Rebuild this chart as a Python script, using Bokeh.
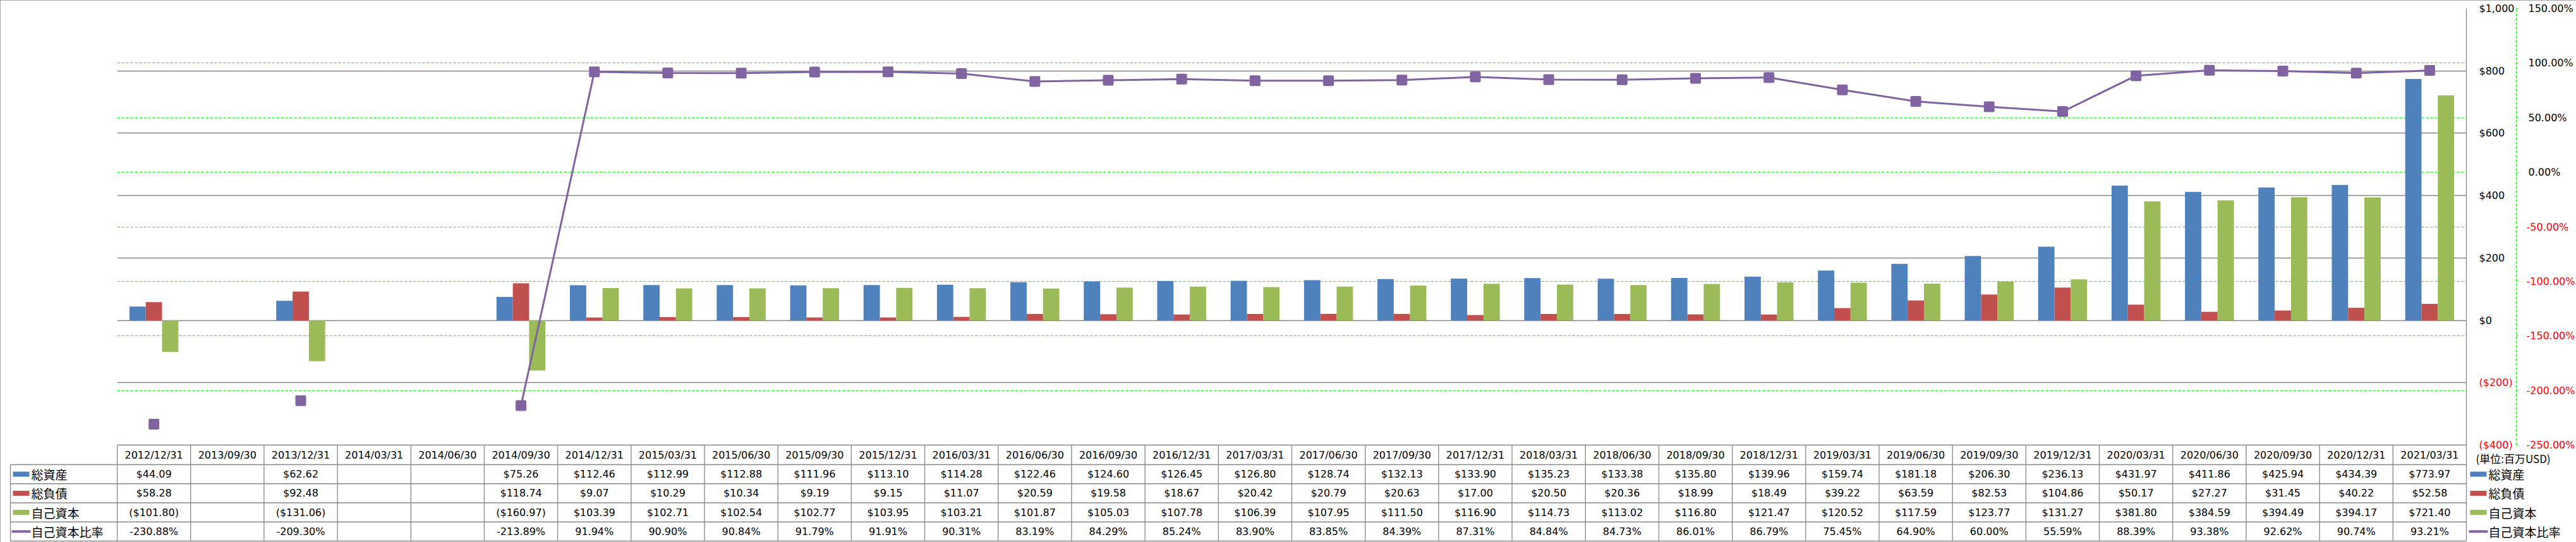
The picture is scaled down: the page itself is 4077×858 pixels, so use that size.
import math
from bokeh.plotting import figure
from bokeh.models import (ColumnDataSource, FactorRange, Range1d, LinearAxis,
                          FixedTicker, Grid, AllLabels, CustomJSTickFormatter)
from bokeh.transform import dodge
from bokeh.core.properties import value
from bokeh.embed import file_html
from bokeh.resources import INLINE

# ---------------- data ----------------
dates = ["2012/12/31", "2013/09/30", "2013/12/31", "2014/03/31", "2014/06/30",
         "2014/09/30", "2014/12/31",
         "2015/03/31", "2015/06/30", "2015/09/30", "2015/12/31",
         "2016/03/31", "2016/06/30", "2016/09/30", "2016/12/31",
         "2017/03/31", "2017/06/30", "2017/09/30", "2017/12/31",
         "2018/03/31", "2018/06/30", "2018/09/30", "2018/12/31",
         "2019/03/31", "2019/06/30", "2019/09/30", "2019/12/31",
         "2020/03/31", "2020/06/30", "2020/09/30", "2020/12/31", "2021/03/31"]
N = None
total_assets = [44.09, N, 62.62, N, N, 75.26, 112.46,
                112.99, 112.88, 111.96, 113.10,
                114.28, 122.46, 124.60, 126.45,
                126.80, 128.74, 132.13, 133.90,
                135.23, 133.38, 135.80, 139.96,
                159.74, 181.18, 206.30, 236.13,
                431.97, 411.86, 425.94, 434.39, 773.97]
total_liabilities = [58.28, N, 92.48, N, N, 118.74, 9.07,
                     10.29, 10.34, 9.19, 9.15,
                     11.07, 20.59, 19.58, 18.67,
                     20.42, 20.79, 20.63, 17.00,
                     20.50, 20.36, 18.99, 18.49,
                     39.22, 63.59, 82.53, 104.86,
                     50.17, 27.27, 31.45, 40.22, 52.58]
equity = [-101.80, N, -131.06, N, N, -160.97, 103.39,
          102.71, 102.54, 102.77, 103.95,
          103.21, 101.87, 105.03, 107.78,
          106.39, 107.95, 111.50, 116.90,
          114.73, 113.02, 116.80, 121.47,
          120.52, 117.59, 123.77, 131.27,
          381.80, 384.59, 394.49, 394.17, 721.40]
equity_ratio = [-230.88, N, -209.30, N, N, -213.89, 91.94,
                90.90, 90.84, 91.79, 91.91,
                90.31, 83.19, 84.29, 85.24,
                83.90, 83.85, 84.39, 87.31,
                84.84, 84.73, 86.01, 86.79,
                75.45, 64.90, 60.00, 55.59,
                88.39, 93.38, 92.62, 90.74, 93.21]
series_names = ["総資産", "総負債", "自己資本", "自己資本比率"]
usd_ticks = [-400, -200, 0, 200, 400, 600, 800, 1000]
pct_ticks = [-250, -200, -150, -100, -50, 0, 50, 100, 150]
unit_label = "(単位:百万USD)"

assert all(len(a) == len(dates) for a in (total_assets, total_liabilities, equity, equity_ratio))

# ---------------- style ----------------
BLUE, RED, GREEN, PURPLE = "#4F81BD", "#C0504D", "#9BBB59", "#8064A2"
GRAY = "#868686"
LIME = "#00FF00"
NUM_FONT = "DejaVu Sans"
JP_FONT = "Noto Sans CJK JP"

W, H = 4077, 858
BL, BR, BT, BB = 185, 174, 13, 154
FW = W - BL - BR          # frame width in px
FH = H - BT - BB          # frame height in px
CW = FW / len(dates)      # px per category (synthetic unit)
HDR = 31                  # header row height
ROW = 30.25               # data row height


def px(v):
    """horizontal pixel offset from the frame's left edge -> synthetic x"""
    return v / CW


def fmt_usd(v):
    if v is None:
        return ""
    if v < 0:
        return "(${:,.2f})".format(-v)
    return "${:,.2f}".format(v)


def fmt_pct(v):
    return "" if v is None else "{:.2f}%".format(v)


p = figure(width=W, height=H, x_range=FactorRange(factors=dates),
           y_range=Range1d(-400, 1000), y_axis_location="right",
           x_axis_location=None, output_backend="svg", toolbar_location=None,
           min_border_left=BL, min_border_right=BR, min_border_top=BT,
           min_border_bottom=BB, outline_line_color=None,
           background_fill_color="white", border_fill_color="white")
p.styles = {"outline": "2px solid #8c8c8c", "outline-offset": "-2px"}
p.extra_y_ranges = {"pct": Range1d(-250, 150), "ty": Range1d(0, FH)}

# primary ($) axis on the right; negative labels are drawn in red separately
ax = p.yaxis[0]
ax.ticker = FixedTicker(ticks=usd_ticks)
ax.formatter = CustomJSTickFormatter(
    code="return tick < 0 ? '' : '$' + tick.toLocaleString('en-US');")
ax.major_label_policy = AllLabels()
ax.axis_line_color = GRAY
ax.axis_line_width = 1.3
ax.major_tick_out = 0
ax.major_tick_in = 0
ax.minor_tick_line_color = None
ax.major_label_standoff = 20
ax.major_label_text_font = NUM_FONT
ax.major_label_text_font_size = "16px"
ax.major_label_text_color = "black"

# secondary (%) axis
pax = LinearAxis(y_range_name="pct", ticker=FixedTicker(ticks=pct_ticks),
                 formatter=CustomJSTickFormatter(
                     code="return tick < 0 ? '' : tick.toFixed(2) + '%';"),
                 major_label_policy=AllLabels(),
                 axis_line_color=LIME, axis_line_dash="4 3", axis_line_width=1,
                 major_tick_line_color=LIME, major_tick_out=3, major_tick_in=0,
                 minor_tick_line_color=None, major_label_standoff=16,
                 major_label_text_font=NUM_FONT, major_label_text_font_size="16px",
                 major_label_text_color="black")
p.add_layout(pax, "right")

# grids
p.xgrid.visible = False
p.ygrid.ticker = FixedTicker(ticks=usd_ticks)
p.ygrid.grid_line_color = GRAY
p.ygrid.grid_line_width = 1.3
pgrid = Grid(dimension=1, y_range_name="pct",
             ticker=FixedTicker(ticks=[t for t in pct_ticks if -250 < t < 150]),
             grid_line_color=LIME, grid_line_dash="4 3", grid_line_width=1)
p.add_layout(pgrid)

# red negative tick labels (drawn as text beside the axes)
neg_usd = [t for t in usd_ticks if t < 0]
neg_pct = [t for t in pct_ticks if t < 0]
RTXT = dict(text_align="left", text_baseline="middle", text_font=value(NUM_FONT),
            text_font_size="16px", text_color="red", level="overlay")
p.text(x=[px(3738)] * len(neg_usd), y=neg_usd,
       text=["(${:,})".format(-t) for t in neg_usd], **RTXT)
p.text(x=[px(3813)] * len(neg_pct), y=neg_pct, y_range_name="pct",
       text=["{:.2f}%".format(t) for t in neg_pct], **RTXT)

# bars
bw = 1 / 4.5
for vals, off, col in ((total_assets, -bw, BLUE), (total_liabilities, 0, RED), (equity, bw, GREEN)):
    src = ColumnDataSource(dict(x=[d for d, v in zip(dates, vals) if v is not None],
                                top=[v for v in vals if v is not None]))
    p.vbar(x=dodge("x", off, range=p.x_range), top="top", bottom=0, width=bw,
           source=src, fill_color=col, line_color=None)

# ratio line (gaps for blanks) and markers
line_src = ColumnDataSource(dict(x=dates, y=[math.nan if v is None else v for v in equity_ratio]))
p.line(x="x", y="y", source=line_src, y_range_name="pct", line_color=PURPLE, line_width=3)
mk_src = ColumnDataSource(dict(x=[d for d, v in zip(dates, equity_ratio) if v is not None],
                               y=[v for v in equity_ratio if v is not None]))
p.scatter(x="x", y="y", source=mk_src, y_range_name="pct", marker="square", size=13,
          fill_color=PURPLE, line_color=PURPLE, line_width=4, line_join="round")

# ---------------- data table below the plot ----------------
row_tops = [0, -HDR] + [-HDR - ROW * k for k in range(1, 5)]
row_mid = [-HDR / 2] + [-HDR - ROW * k - ROW / 2 for k in range(4)]
bottom = row_tops[-1]
OV = dict(level="overlay", y_range_name="ty")
NC = len(dates)

# vertical cell borders
vsrc = ColumnDataSource(dict(x=dates))
p.segment(x0=dodge("x", -0.5, range=p.x_range), x1=dodge("x", -0.5, range=p.x_range),
          y0=0, y1=bottom, source=vsrc, line_color=GRAY, line_width=1.3, **OV)
p.segment(x0=[NC, px(-169)], x1=[NC, px(-169)], y0=[0, -HDR], y1=[bottom, bottom],
          line_color=GRAY, line_width=1.3, **OV)
# horizontal borders
p.segment(x0=[0] + [px(-169)] * 5, x1=[NC] * 6, y0=row_tops, y1=row_tops,
          line_color=GRAY, line_width=1.3, **OV)

TXT = dict(text_align="center", text_baseline="middle", text_font=value(NUM_FONT),
           text_font_size="16px", text_color="black", **OV)
p.text(x=dates, y=[row_mid[0]] * NC, text=dates, **TXT)
p.text(x=dates, y=[row_mid[1]] * NC, text=[fmt_usd(v) for v in total_assets], **TXT)
p.text(x=dates, y=[row_mid[2]] * NC, text=[fmt_usd(v) for v in total_liabilities], **TXT)
p.text(x=dates, y=[row_mid[3]] * NC, text=[fmt_usd(v) for v in equity], **TXT)
p.text(x=dates, y=[row_mid[4]] * NC, text=[fmt_pct(v) for v in equity_ratio], **TXT)

# legend keys (left column of the table and right side)
JP = dict(text_align="left", text_baseline="middle", text_font=value(JP_FONT),
          text_font_size="19px", text_color="black", **OV)
for kx, tx in ((-152, -136), (3737, 3753)):
    p.rect(x=[px(kx)] * 3, y=row_mid[1:4], width=26, height=8, width_units="screen",
           fill_color=[BLUE, RED, GREEN], line_color=None, **OV)
    p.segment(x0=[px(kx - 15)], x1=[px(kx + 15)], y0=[row_mid[4]], y1=[row_mid[4]],
              line_color=PURPLE, line_width=4, **OV)
    p.scatter(x=[px(kx)], y=[row_mid[4]], marker="square", size=10, fill_color=PURPLE,
              line_color=PURPLE, line_width=4, line_join="round", **OV)
    p.text(x=[px(tx)] * 4, y=row_mid[1:], text=series_names, **JP)

p.text(x=[px(3733)], y=[-21], text=[unit_label], text_align="left", text_baseline="middle",
       text_font=value(JP_FONT), text_font_size="17px", text_color="black", **OV)

open("out.html", "w").write(file_html(p, INLINE))
